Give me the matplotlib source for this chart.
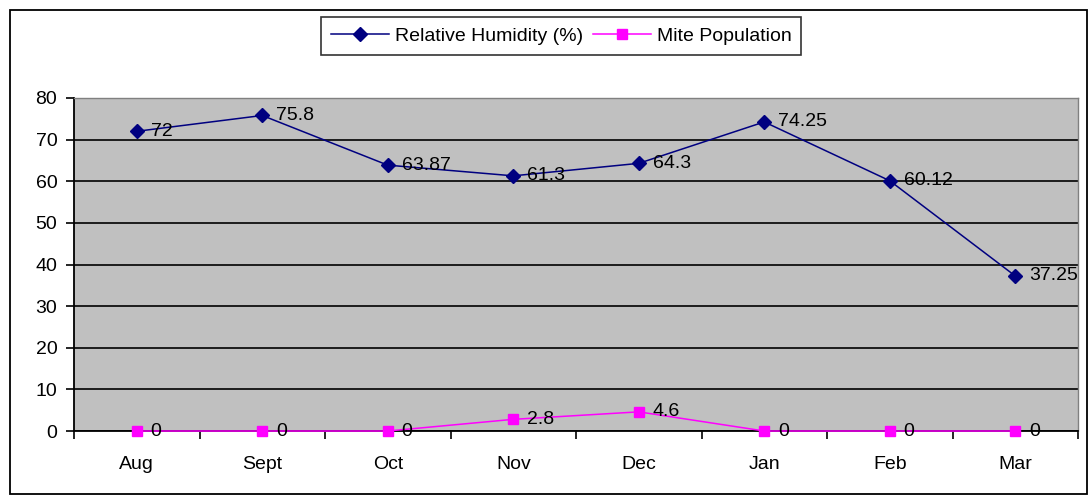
import matplotlib
matplotlib.use("Agg")
import matplotlib.pyplot as plt
from matplotlib.patches import Rectangle

months = ["Aug", "Sept", "Oct", "Nov", "Dec", "Jan", "Feb", "Mar"]
humidity = [72, 75.8, 63.87, 61.3, 64.3, 74.25, 60.12, 37.25]
mites = [0, 0, 0, 2.8, 4.6, 0, 0, 0]
hum_labels = ["72", "75.8", "63.87", "61.3", "64.3", "74.25", "60.12", "37.25"]
mite_labels = ["0", "0", "0", "2.8", "4.6", "0", "0", "0"]

plt.rcParams['font.family'] = ['Liberation Sans', 'DejaVu Sans']
FS = 14

fig = plt.figure(figsize=(10.91, 4.97), dpi=100)
fig.patch.set_facecolor('white')
fig.patches.append(Rectangle((10/1091, 3/497), 1077/1091, 484/497, transform=fig.transFigure,
                             fill=False, edgecolor='black', linewidth=1.3))

ax = fig.add_axes([74/1091, 66/497, 1004/1091, 333/497])
ax.set_facecolor('#C0C0C0')
x = list(range(len(months)))

ax.plot(x, humidity, color='#000080', marker='D', markersize=7, linewidth=1.1,
        label='Relative Humidity (%)', zorder=3, clip_on=False)
ax.plot(x, mites, color='#FF00FF', marker='s', markersize=7, linewidth=1.1,
        label='Mite Population', zorder=3, clip_on=False)

for xi, v, t in zip(x, humidity, hum_labels):
    ax.annotate(t, (xi, v), xytext=(10, 0), textcoords='offset points', ha='left', va='center',
                fontsize=FS, color='black', zorder=5, annotation_clip=False)
for xi, v, t in zip(x, mites, mite_labels):
    ax.annotate(t, (xi, v), xytext=(10, 0), textcoords='offset points', ha='left', va='center',
                fontsize=FS, color='black', zorder=5, annotation_clip=False)

ax.set_xlim(-0.5, 7.5)
ax.set_ylim(0, 80)
ax.set_yticks(range(0, 81, 10))
ax.yaxis.grid(True, color='black', linewidth=1.2)
ax.set_axisbelow(True)
ax.set_xticks(x)
ax.set_xticklabels(months)
ax.set_xticks([i - 0.5 for i in range(len(months) + 1)], minor=True)
ax.tick_params(axis='x', which='major', length=0, pad=18, labelsize=FS)
ax.tick_params(axis='x', which='minor', length=6, width=1.2, direction='out', color='black')
ax.tick_params(axis='y', length=6, width=1.2, direction='out', pad=6, labelsize=FS)

for s in ['left', 'bottom']:
    ax.spines[s].set_color('black')
    ax.spines[s].set_linewidth(1.3)
for s in ['top', 'right']:
    ax.spines[s].set_color('#808080')
    ax.spines[s].set_linewidth(1.0)

leg = ax.legend(loc='center', bbox_to_anchor=(561/1091, 1 - 36/497), bbox_transform=fig.transFigure,
                ncol=2, frameon=True, fancybox=False, fontsize=FS, handlelength=3.0,
                columnspacing=0.5, handletextpad=0.3, borderpad=0.5, borderaxespad=0)
leg.get_frame().set_edgecolor('black')
leg.get_frame().set_linewidth(1.2)

fig.savefig('out.png', dpi=100, facecolor='white')
